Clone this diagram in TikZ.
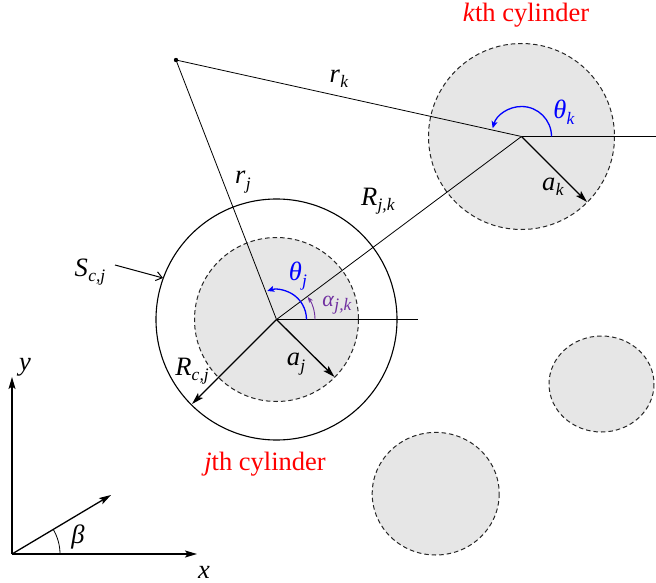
\documentclass[tikz,border=0pt]{standalone}
\usepackage{fontspec}
\setmainfont{Liberation Serif}
\usetikzlibrary{arrows.meta}
\definecolor{cylgray}{RGB}{230,230,230}
\definecolor{alphapurple}{RGB}{112,48,160}
\definecolor{thetablue}{RGB}{0,0,255}
\newcommand{\symb}[2]{\textit{#1}\kern0.3pt\raisebox{-0.45ex}{\fontsize{17.5}{18}\selectfont\textit{#2}}}
\begin{document}
\begin{tikzpicture}[x=1pt,y=-1pt,
  font=\fontsize{26.5}{30}\selectfont,
  cyl/.style={draw=black!85, fill=cylgray, line width=1pt, dash pattern=on 4.5pt off 3pt},
  guide/.style={draw=black, line width=0.8pt},
  vec/.style={draw=black, line width=1.3pt, -{Stealth[length=12pt,width=7pt,inset=2.5pt]}},
  angarc/.style={line width=1.3pt, -{Stealth[length=7pt,width=6pt,inset=1.5pt]}},
  lab/.style={inner sep=0pt}]
\useasboundingbox (0,0) rectangle (656,583);
% centres
\coordinate (J) at (276.5,319.5);
\coordinate (K) at (521.5,136.5);
\coordinate (P) at (176,60);
\coordinate (O) at (12,554);
\coordinate (Jx) at (418,319.5);
\coordinate (Kx) at (656,136.5);
\coordinate (aj) at (334.5,377);
\coordinate (ak) at (587,202);
\coordinate (Rc) at (192,404);
\coordinate (Yend) at (12,377);
\coordinate (Xend) at (197,554);
\coordinate (Bend) at (111,495);
\coordinate (Sfrom) at (115,265);
\coordinate (Sto) at (163,278);
% cylinders
\path[cyl] (J) circle[radius=82];
\draw[line width=1.1pt] (J) circle[radius=120.5];
\path[cyl] (K) circle[radius=93];
\path[cyl] (601.5,384) ellipse[x radius=52.5,y radius=48];
\path[cyl] (435.7,493.7) ellipse[x radius=63.5,y radius=61.3];
% guide lines
\draw[guide] (P) -- (J);
\draw[guide] (P) -- (K);
\draw[guide] (J) -- (K);
\draw[guide] (J) -- (Jx);
\draw[guide] (K) -- (Kx);
\fill (P) circle[radius=2.2];
% vectors
\draw[vec] (J) -- (aj);
\draw[vec] (K) -- (ak);
\draw[vec] (J) -- (Rc);
\draw[line width=1pt, -{Straight Barb[length=6pt,width=9pt]}] (Sfrom) -- (Sto);
% angle arcs
\draw[angarc, thetablue] ([xshift=30pt]J) arc[start angle=0, end angle=-108, radius=30];
\draw[line width=0.9pt, alphapurple, -{Stealth[length=6pt,width=4.5pt]}] ([xshift=38.5pt]J) arc[start angle=0, end angle=-36, radius=38.5];
\draw[angarc, thetablue] ([xshift=30pt]K) arc[start angle=0, end angle=-164, radius=30];
% axes
\draw[vec] (O) -- (Yend);
\draw[vec] (O) -- (Xend);
\draw[vec] (O) -- (Bend);
\draw[line width=0.8pt] ([xshift=48pt]O) arc[start angle=0, end angle=-31, radius=48];
% labels
\node[lab, text=red] (kcyl) at (526,15) {\textit{k}th cylinder};
\node[lab, text=red] (jcyl) at (265,464) {\textit{j}th cylinder};
\node[lab] (lrk) at (339,79) {\symb{r}{k}};
\node[lab] (lrj) at (243,182) {\symb{r}{j}};
\node[lab] (lRjk) at (378,201) {\symb{R}{j,k}};
\node[lab] (lScj) at (90,272) {\symb{S}{c,j}};
\node[lab] (lRcj) at (192,371) {\symb{R}{c,j}};
\node[lab] (laj) at (296,364) {\symb{a}{j}};
\node[lab] (lak) at (553,187) {\symb{a}{k}};
\node[lab, text=thetablue] (lthj) at (298,276) {\symb{θ}{j}};
\node[lab, text=alphapurple, font=\fontsize{22}{24}\selectfont] (lajk) at (337,305) {\symb{α}{j,k}};
\node[lab, text=thetablue] (lthk) at (564,112) {\symb{θ}{k}};
\node[lab] (ly) at (25,367) {\textit{y}};
\node[lab] (lx) at (204,572) {\textit{x}};
\node[lab] (lb) at (78,537) {\textit{β}};
\end{tikzpicture}
\end{document}
